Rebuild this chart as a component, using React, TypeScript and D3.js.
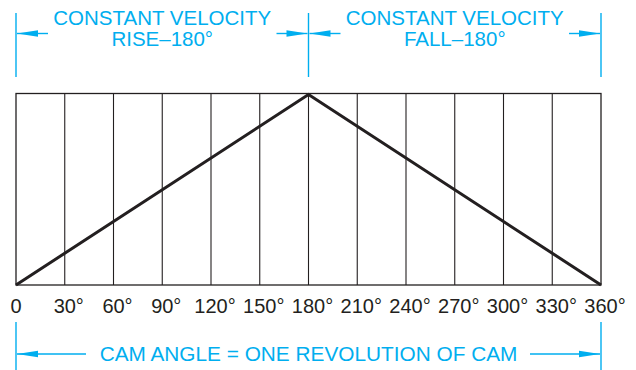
import { useMemo } from "react";
import { scaleLinear, line } from "d3";

const width = 636;
const height = 370;
const cyan = "#00aeef";
const ink = "#231f20";
const font = "'Liberation Sans', Arial, Helvetica, sans-serif";

// cam angle grid (degrees)
const angleTicks = [0, 30, 60, 90, 120, 150, 180, 210, 240, 270, 300, 330, 360];
const tickLabels = ["0", "30°", "60°", "90°", "120°", "150°", "180°", "210°", "240°", "270°", "300°", "330°", "360°"];

// follower displacement profile (fraction of total rise)
const profileAngles = [0, 180, 360];
const profileRise = [0, 1, 0];

// motion segments above the diagram
const segmentStart = [0, 180];
const segmentEnd = [180, 360];
const segmentTitle = ["CONSTANT VELOCITY", "CONSTANT VELOCITY"];
const segmentSub = ["RISE–180°", "FALL–180°"];

const Arrow = ({ tipX, y, dir }: { tipX: number; y: number; dir: number }) => {
  const len = 21;
  const half = 3.2;
  return (
    <path
      d={`M${tipX},${y} L${tipX + dir * len},${y - half} L${tipX + dir * len},${y + half} Z`}
      fill={cyan}
    />
  );
};

export default function App() {
  const { x, y, path } = useMemo(() => {
    const x = scaleLinear().domain([0, 360]).range([16, 601]);
    const y = scaleLinear().domain([0, 1]).range([285, 94.5]);
    const path = line<number>()
      .x((_, i) => x(profileAngles[i]))
      .y((d) => y(d))(profileRise);
    return { x, y, path };
  }, []);

  const topDimY = 33.5;
  const botDimY = 354;

  return (
    <svg
      width={width}
      height={height}
      viewBox={`0 0 ${width} ${height}`}
      style={{ position: "absolute", left: 0, top: 0 }}
      fontFamily={font}
    >
      <rect x={0} y={0} width={width} height={height} fill="white" />

      {/* grid box */}
      <rect
        x={x(0)}
        y={y(1) - 1}
        width={x(360) - x(0)}
        height={y(0) - y(1) + 1}
        fill="none"
        stroke={ink}
        strokeWidth={1.3}
      />
      {angleTicks.slice(1, -1).map((a) => (
        <line key={a} x1={x(a)} x2={x(a)} y1={y(1) - 1} y2={y(0)} stroke={ink} strokeWidth={1.1} />
      ))}

      {/* displacement profile */}
      <path d={path ?? ""} fill="none" stroke={ink} strokeWidth={3} strokeLinejoin="miter" />

      {/* tick labels */}
      {angleTicks.map((a, i) => (
        <text
          key={a}
          x={x(a) + (i === 0 ? 0 : 4)}
          y={313}
          textAnchor="middle"
          fontSize={20}
          fill={ink}
        >
          {tickLabels[i]}
        </text>
      ))}

      {/* top dimensions */}
      {[0, 180, 360].map((a) => (
        <line key={a} x1={x(a)} x2={x(a)} y1={13} y2={77} stroke={cyan} strokeWidth={1.4} />
      ))}
      {segmentStart.map((s, i) => {
        const x0 = x(s);
        const x1 = x(segmentEnd[i]);
        const cx = (x0 + x1) / 2;
        return (
          <g key={s}>
            <line x1={x0 + 1} x2={x0 + 32} y1={topDimY} y2={topDimY} stroke={cyan} strokeWidth={1.4} />
            <Arrow tipX={x0 + 1} y={topDimY} dir={1} />
            <line x1={x1 - 32} x2={x1 - 1} y1={topDimY} y2={topDimY} stroke={cyan} strokeWidth={1.4} />
            <Arrow tipX={x1 - 1} y={topDimY} dir={-1} />
            <text x={cx} y={24.5} textAnchor="middle" fontSize={20.5} fill={cyan}>
              {segmentTitle[i]}
            </text>
            <text x={cx} y={45.5} textAnchor="middle" fontSize={20.5} fill={cyan}>
              {segmentSub[i]}
            </text>
          </g>
        );
      })}

      {/* bottom dimension */}
      <line x1={x(0)} x2={x(0)} y1={322} y2={370} stroke={cyan} strokeWidth={1.4} />
      <line x1={x(360)} x2={x(360)} y1={322} y2={370} stroke={cyan} strokeWidth={1.4} />
      <line x1={x(0) + 1} x2={86} y1={botDimY} y2={botDimY} stroke={cyan} strokeWidth={1.4} />
      <Arrow tipX={x(0) + 1} y={botDimY} dir={1} />
      <line x1={530} x2={x(360) - 1} y1={botDimY} y2={botDimY} stroke={cyan} strokeWidth={1.4} />
      <Arrow tipX={x(360) - 1} y={botDimY} dir={-1} />
      <text x={(x(0) + x(360)) / 2} y={360.5} textAnchor="middle" fontSize={20.8} fill={cyan}>
        CAM ANGLE = ONE REVOLUTION OF CAM
      </text>
    </svg>
  );
}
